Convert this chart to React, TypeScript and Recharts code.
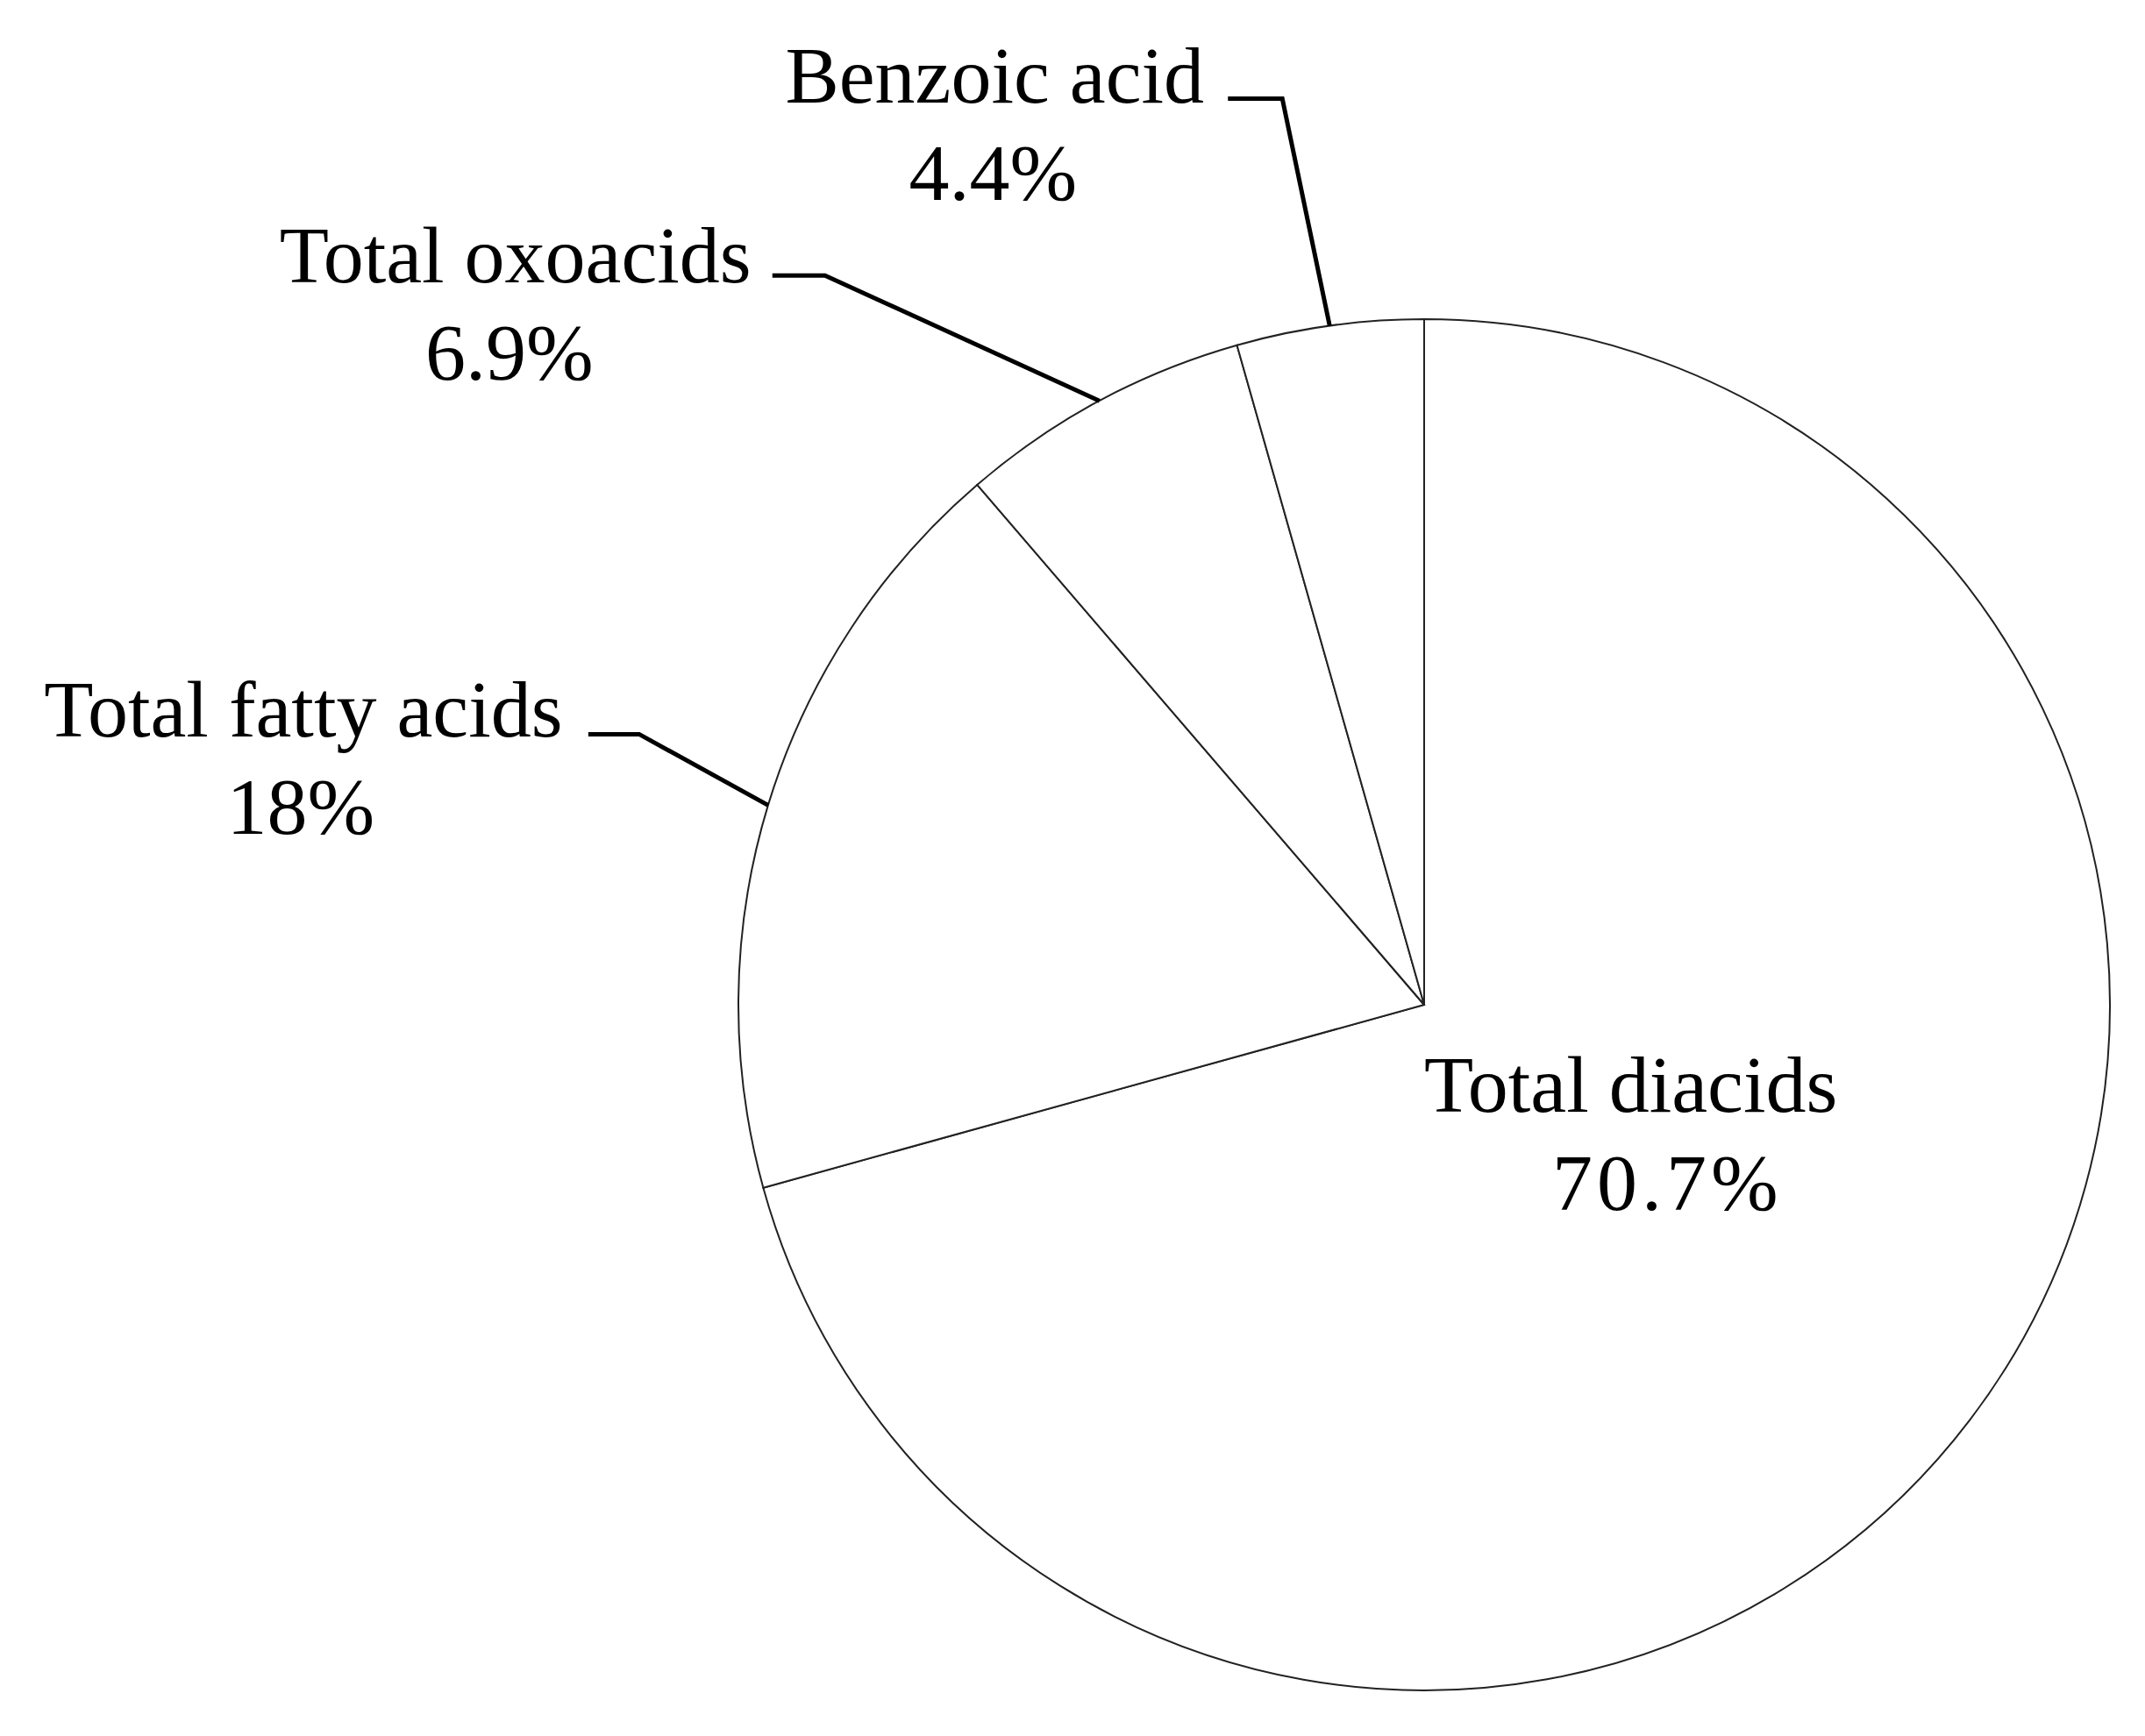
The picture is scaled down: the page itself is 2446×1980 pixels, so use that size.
import React from 'react';
import { PieChart, Pie, Cell } from 'recharts';

const categories = ['Total diacids', 'Total fatty acids', 'Total oxoacids', 'Benzoic acid'];
const shares = [70.7, 18, 6.9, 4.4];

const data = categories.map((name, i) => ({ name, value: shares[i] }));

const RADIAN = Math.PI / 180;
const FONT = '"Liberation Serif", "Times New Roman", serif';
const FONT_SIZE = 92;

// leader-line + text placement, relative to the slice's outer mid point
const LABEL_LAYOUT: Record<string, any> = {
  'Total fatty acids': { ex: -147, ey: -81, tail: 58, nameDx: -383, nameDy: 3, pctDx: -386, pctDy: 114 },
  'Total oxoacids': { ex: -313, ey: -143, tail: 60, nameDx: -353, nameDy: 8, pctDx: -360, pctDy: 119 },
  'Benzoic acid': { ex: -54, ey: -259, tail: 62, nameDx: -328, nameDy: 5, pctDx: -330, pctDy: 116 },
};

function renderLabel(props: any) {
  const { cx, cy, midAngle, outerRadius, name, value } = props;
  const layout = LABEL_LAYOUT[name];

  if (!layout) {
    // the big slice gets its label inside
    return (
      <g>
        <text x={cx} y={cy + 122} fontFamily={FONT} fontSize={FONT_SIZE} fill="#000">
          {name}
        </text>
        <text x={cx + 146} y={cy + 234} fontFamily={FONT} fontSize={FONT_SIZE} fill="#000" letterSpacing={5}>
          {`${value}%`}
        </text>
      </g>
    );
  }

  const sx = cx + outerRadius * Math.cos(-midAngle * RADIAN);
  const sy = cy + outerRadius * Math.sin(-midAngle * RADIAN);
  const ex = sx + layout.ex;
  const ey = sy + layout.ey;

  return (
    <g>
      <polyline
        points={`${sx},${sy} ${ex},${ey} ${ex - layout.tail},${ey}`}
        fill="none"
        stroke="#000"
        strokeWidth={5}
      />
      <text x={ex + layout.nameDx} y={ey + layout.nameDy} textAnchor="middle" fontFamily={FONT} fontSize={FONT_SIZE} fill="#000">
        {name}
      </text>
      <text x={ex + layout.pctDx} y={ey + layout.pctDy} textAnchor="middle" fontFamily={FONT} fontSize={FONT_SIZE} fill="#000">
        {`${value}%`}
      </text>
    </g>
  );
}

export default function App() {
  return (
    <div style={{ position: 'absolute', left: 0, top: 0, width: 2446, height: 1980, background: '#fff' }}>
      <PieChart width={2446} height={1980} margin={{ top: 0, right: 0, bottom: 0, left: 0 }}>
        <Pie
          data={data}
          dataKey="value"
          nameKey="name"
          cx={1624}
          cy={1146}
          outerRadius={782}
          startAngle={90}
          endAngle={-270}
          stroke="#222"
          strokeWidth={2}
          label={renderLabel}
          labelLine={false}
          isAnimationActive={false}
        >
          {data.map((d) => (
            <Cell key={d.name} fill="#fff" />
          ))}
        </Pie>
      </PieChart>
    </div>
  );
}
